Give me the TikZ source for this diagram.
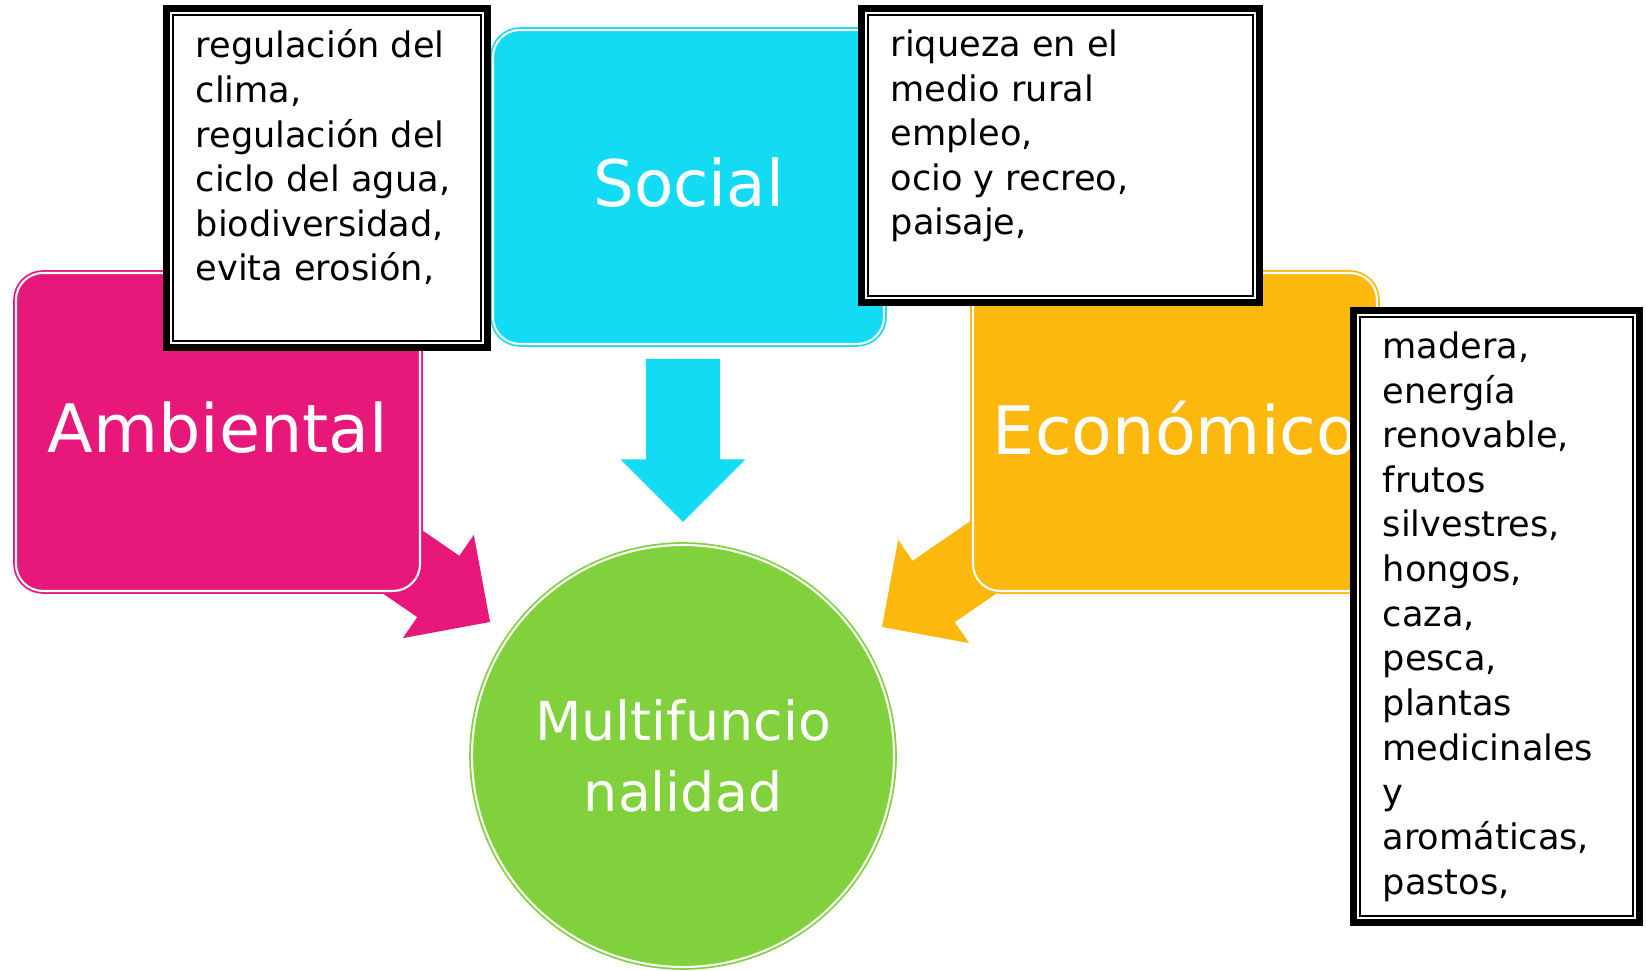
\documentclass[tikz,border=0pt]{standalone}
\usepackage{fontspec}
\setmainfont{DejaVu Sans}
\usetikzlibrary{shapes.arrows, positioning}
\definecolor{ambpink}{RGB}{232,24,122}
\definecolor{soccyan}{RGB}{19,219,244}
\definecolor{ecoorange}{RGB}{253,184,14}
\definecolor{multigreen}{RGB}{128,209,60}
\tikzstyle{area} = [
	rectangle,
	rounded corners=0.27cm,
	line width=0.5pt,
	double=white,
	double distance=0.6pt,
	outer sep=0pt,
	text=white,
	text depth=0.09cm,
	font=\fontsize{19}{23}\selectfont
]
\tikzstyle{hub} = [
	circle,
	line width=0.5pt,
	double=white,
	double distance=0.6pt,
	minimum size=4.22cm,
	align=center,
	text=white,
	font=\fontsize{15.3}{20}\selectfont
]
\tikzstyle{textbox} = [
	rectangle,
	draw=black,
	line width=0.07cm,
	fill=white,
	path picture={
		\draw[line width=0.02cm]
			([shift={(0.068,-0.068)}]path picture bounding box.north west)
			rectangle ([shift={(-0.068,0.068)}]path picture bounding box.south east);
	}
]
\tikzstyle{boxtext} = [
	align=left,
	inner sep=0pt,
	font=\fontsize{10}{12.7}\selectfont
]
\tikzstyle{blockarrow} = [
	single arrow,
	minimum height=1.63cm,
	minimum width=1.24cm,
	single arrow head extend=0.255cm,
	single arrow tip angle=90,
	inner xsep=0pt,
	inner ysep=0.365cm,
	outer sep=0pt,
	anchor=tip
]

\begin{document}
\begin{tikzpicture}
	\useasboundingbox (0,0) rectangle (16.46,9.71);

	% arrows into the circle
	\node (arrA) [blockarrow, fill=ambpink, rotate=-34.5] at (4.90,3.49) {};
	\node (arrE) [blockarrow, fill=ecoorange, rotate=-145.5] at (8.82,3.44) {};
	\node (arrS) [blockarrow, fill=soccyan, rotate=-90] at (6.83,4.49) {};

	\node (amb) [area, fill=ambpink, draw=ambpink, minimum width=4.04cm, minimum height=3.18cm] at (2.18,5.39) {Ambiental};
	\node (soc) [area, fill=soccyan, draw=soccyan, minimum width=3.91cm, minimum height=3.14cm, font=\fontsize{18.3}{22}\selectfont] at (6.885,7.84) {Social};
	\node (eco) [area, fill=ecoorange, draw=ecoorange, minimum width=4.04cm, minimum height=3.18cm] at (11.75,5.39) {Económico};
	\node (multi) [hub, fill=multigreen, draw=multigreen] at (6.83,2.15) {Multifuncio\\nalidad};

	% boxes with the functions
	\node (clima) [textbox, minimum width=3.21cm, minimum height=3.39cm] at (3.27,7.93) {};
	\node (rural) [textbox, minimum width=3.98cm, minimum height=2.94cm] at (10.605,8.155) {};
	\node (madera) [textbox, minimum width=2.86cm, minimum height=6.12cm] at (14.965,3.545) {};

	\node (climatxt) [boxtext, below right=0.24cm and 0.32cm of clima.north west] {regulación del\\clima,\\regulación del\\ciclo del agua,\\biodiversidad,\\evita erosión,};
	\node (ruraltxt) [boxtext, below right=0.24cm and 0.32cm of rural.north west] {riqueza en el\\medio rural\\empleo,\\ocio y recreo,\\paisaje,};
	\node (maderatxt) [boxtext, below right=0.24cm and 0.32cm of madera.north west] {madera,\\energía\\renovable,\\frutos\\silvestres,\\hongos,\\caza,\\pesca,\\plantas\\medicinales\\y\\aromáticas,\\pastos,};
\end{tikzpicture}
\end{document}
